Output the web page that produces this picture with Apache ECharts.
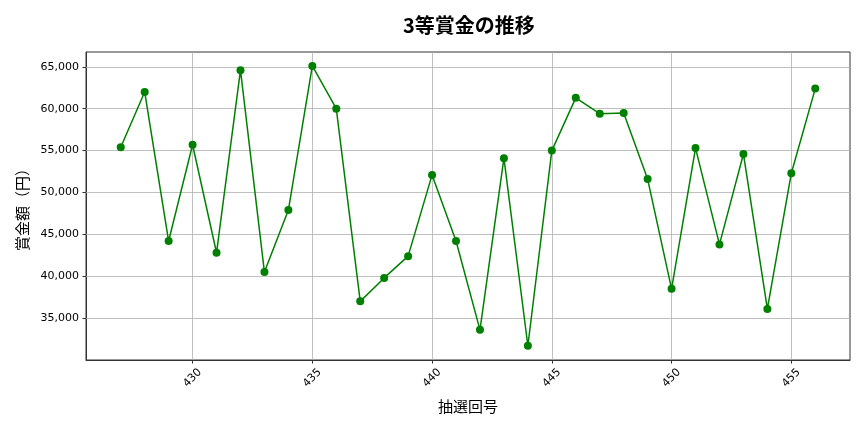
<!DOCTYPE html>
<html>
<head>
<meta charset="utf-8">
<script src="https://cdn.jsdelivr.net/npm/echarts@6/dist/echarts.min.js"></script>
<style>
html,body{margin:0;padding:0;background:#fff;}
#chart{width:864px;height:432px;}
</style>
</head>
<body>
<div id="chart"></div>
<script>
const draws = [427,428,429,430,431,432,433,434,435,436,437,438,439,440,441,442,443,444,445,446,447,448,449,450,451,452,453,454,455,456];
const prizes = [55400,62000,44200,55700,42800,64600,40500,47900,65100,60000,37000,39800,42400,52100,44200,33600,54100,31700,55000,61300,59400,59500,51600,38500,55300,43800,54600,36100,52300,62400];
const xTicks = [430,435,440,445,450,455];
const yTicks = [35000,40000,45000,50000,55000,60000,65000];

const numFont = 'DejaVu Sans, Noto Sans CJK JP, sans-serif';
const cjkFont = 'Noto Sans CJK JP, DejaVu Sans, sans-serif';
const gridColor = '#b0b0b0';

const chart = echarts.init(document.getElementById('chart'));
const pts = draws.map((d, i) => [d, prizes[i]]);

const gridMarks = xTicks.map(v => ({xAxis: v})).concat(yTicks.map(v => ({yAxis: v})));

chart.setOption({
  animation: false,
  backgroundColor: '#fff',
  title: {
    text: '3等賞金の推移',
    left: 398,
    top: 10,
    textStyle: {fontFamily: cjkFont, fontSize: 20, fontWeight: 'bold', color: '#000'}
  },
  grid: {left: 86, right: 14, top: 52, bottom: 72, show: true, borderColor: '#333', borderWidth: 1, backgroundColor: 'transparent'},
  xAxis: {
    type: 'value',
    min: 425.55,
    max: 457.45,
    name: '抽選回号',
    nameLocation: 'middle',
    nameGap: 39,
    nameTextStyle: {fontFamily: cjkFont, fontSize: 15, color: '#000'},
    axisLine: {show: true, lineStyle: {color: '#333', width: 1}},
    axisTick: {show: true, length: 3.5, lineStyle: {color: '#333'}, customValues: xTicks},
    axisLabel: {
      customValues: xTicks,
      rotate: 45,
      align: 'center',
      verticalAlign: 'middle',
      margin: 18,
      fontFamily: numFont,
      fontSize: 11,
      color: '#000',
      formatter: v => String(v)
    },
    splitLine: {show: false}
  },
  yAxis: {
    type: 'value',
    min: 30000,
    max: 66770,
    interval: 5000,
    name: '賞金額（円）',
    nameLocation: 'middle',
    nameGap: 56,
    nameTextStyle: {fontFamily: cjkFont, fontSize: 15, color: '#000'},
    axisLine: {show: true, lineStyle: {color: '#333', width: 1}},
    axisTick: {show: true, length: 3.5, lineStyle: {color: '#333'}, customValues: yTicks},
    axisLabel: {
      customValues: yTicks,
      margin: 7,
      fontFamily: numFont,
      fontSize: 11,
      color: '#000',
      formatter: v => v.toLocaleString('en-US')
    },
    splitLine: {show: false}
  },
  series: [
    {
      type: 'line',
      data: [],
      z: 1,
      silent: true,
      markLine: {
        silent: true,
        z: 1,
        symbol: ['none', 'none'],
        label: {show: false},
        lineStyle: {color: gridColor, width: 0.8, type: 'solid'},
        emphasis: {disabled: true},
        data: gridMarks
      }
    },
    {
      type: 'line',
      data: pts,
      z: 3,
      symbol: 'circle',
      symbolSize: 8,
      lineStyle: {color: '#008000', width: 1.5},
      itemStyle: {color: '#008000'}
    }
  ]
});
</script>
</body>
</html>
